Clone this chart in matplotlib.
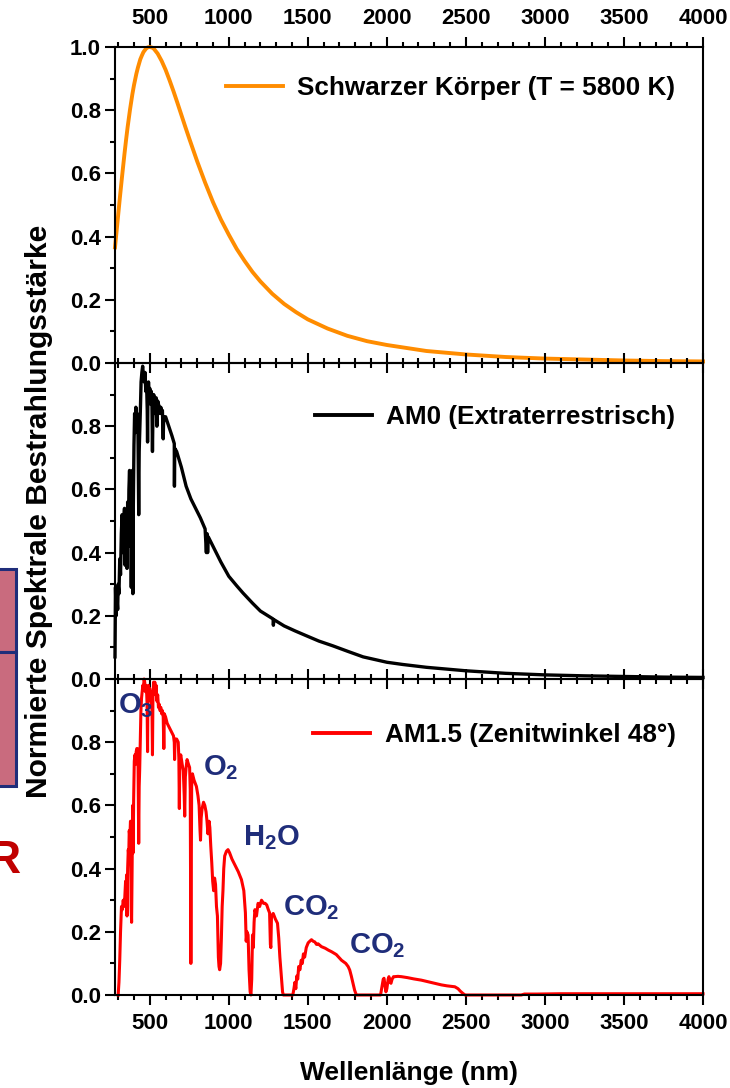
import matplotlib
matplotlib.use('Agg')
import matplotlib.pyplot as plt
from matplotlib.ticker import MultipleLocator
from matplotlib.patches import Rectangle

plt.rcParams['font.family'] = ['Liberation Sans', 'DejaVu Sans']
plt.rcParams['font.weight'] = 'bold'
plt.rcParams['mathtext.fontset'] = 'custom'
plt.rcParams['mathtext.bf'] = 'Liberation Sans:bold'
plt.rcParams['mathtext.rm'] = 'Liberation Sans:bold'

# Schwarzer Koerper 5800 K (normiert)
bb_wl = [280, 290, 300, 310, 325, 340, 350, 360, 375, 390, 400, 415, 425, 440, 450, 460,
         475, 487, 500, 515, 525, 550, 575, 600, 625, 650, 675, 700, 725, 750, 800, 850,
         900, 950, 1000, 1050, 1100, 1150, 1200, 1275, 1350, 1425, 1500, 1625, 1750,
         1875, 2000, 2250, 2500, 2750, 3000, 3250, 3500, 3750, 4000]
bb_val = [0.366, 0.417, 0.468, 0.519, 0.592, 0.662, 0.706, 0.747, 0.802, 0.851, 0.879,
          0.915, 0.935, 0.961, 0.973, 0.984, 0.994, 0.999, 1.0, 0.998, 0.995, 0.979,
          0.956, 0.928, 0.895, 0.860, 0.823, 0.785, 0.747, 0.710, 0.638, 0.571, 0.509,
          0.454, 0.406, 0.361, 0.323, 0.288, 0.258, 0.219, 0.187, 0.161, 0.138, 0.109,
          0.086, 0.069, 0.057, 0.038, 0.027, 0.019, 0.014, 0.011, 0.008, 0.006, 0.005]

# AM0 (Extraterrestrisch)
am0_wl = [280, 283, 287, 292, 297, 300, 305, 310, 315, 320, 325, 330, 335, 340, 344,
          348, 352, 356, 360, 364, 368, 372, 376, 380, 383, 386, 390, 393, 396, 400,
          404, 408, 412, 416, 420, 425, 430, 433, 437, 441, 445, 450, 455, 460, 465,
          470, 475, 480, 484, 486, 488, 492, 496, 500, 505, 510, 514, 517, 520, 525,
          530, 535, 540, 545, 550, 555, 560, 565, 570, 575, 580, 585, 588, 592, 600,
          620, 640, 655, 656, 658, 670, 700, 730, 760, 790, 820, 850, 858, 862, 866,
          870, 900, 950, 1000, 1050, 1090, 1150, 1200, 1280, 1282, 1285, 1350, 1420,
          1490, 1570, 1658, 1750, 1850, 2000, 2100, 2250, 2500, 2750, 3000, 3250, 3500,
          3750, 4000]
am0_val = [0.07, 0.29, 0.20, 0.26, 0.22, 0.30, 0.27, 0.38, 0.33, 0.46, 0.52, 0.40, 0.50,
           0.54, 0.36, 0.53, 0.49, 0.35, 0.56, 0.42, 0.60, 0.66, 0.50, 0.63, 0.29, 0.58,
           0.66, 0.27, 0.55, 0.74, 0.84, 0.78, 0.86, 0.82, 0.84, 0.80, 0.52, 0.72, 0.79,
           0.86, 0.94, 0.97, 0.99, 0.96, 0.94, 0.97, 0.91, 0.93, 0.85, 0.75, 0.88, 0.94,
           0.90, 0.92, 0.87, 0.91, 0.86, 0.72, 0.84, 0.90, 0.88, 0.84, 0.89, 0.80, 0.88,
           0.87, 0.86, 0.84, 0.86, 0.84, 0.85, 0.76, 0.83, 0.82, 0.83, 0.80, 0.77, 0.745,
           0.61, 0.73, 0.72, 0.67, 0.61, 0.57, 0.54, 0.51, 0.475, 0.40, 0.46, 0.40, 0.45,
           0.42, 0.37, 0.325, 0.295, 0.272, 0.24, 0.215, 0.19, 0.17, 0.188, 0.168, 0.152,
           0.137, 0.12, 0.105, 0.088, 0.07, 0.053, 0.046, 0.037, 0.026, 0.018, 0.013,
           0.010, 0.008, 0.006, 0.005]

# AM1.5 (Zenitwinkel 48 Grad)
am15_wl = [300, 305, 310, 315, 321, 326, 332, 337, 342, 347, 350, 353, 356, 360, 364,
           367, 370, 374, 378, 382, 385, 388, 392, 395, 398, 402, 406, 410, 414, 418,
           422, 426, 430, 433, 436, 440, 444, 448, 452, 456, 460, 464, 468, 472, 476,
           480, 483, 486, 488, 492, 496, 500, 504, 508, 511, 514, 517, 520, 524, 528,
           532, 536, 540, 545, 550, 555, 560, 565, 570, 575, 580, 585, 589, 592, 600,
           610, 620, 630, 640, 650, 655, 657, 660, 670, 680, 684, 687, 690, 696, 705,
           712, 718, 721, 725, 730, 736, 745, 752, 756, 760, 762, 765, 770, 780, 795,
           805, 812, 818, 821, 825, 831, 840, 848, 856, 862, 868, 875, 880, 886, 892,
           898, 904, 910, 916, 922, 928, 934, 938, 942, 948, 953, 958, 963, 968, 974,
           985, 995, 1005, 1020, 1040, 1060, 1080, 1095, 1105, 1110, 1115, 1122, 1128,
           1135, 1140, 1145, 1150, 1155, 1160, 1165, 1175, 1185, 1195, 1207, 1220, 1230,
           1240, 1250, 1258, 1263, 1266, 1270, 1281, 1295, 1308, 1316, 1323, 1332, 1340,
           1345, 1405, 1412, 1418, 1424, 1430, 1436, 1442, 1450, 1458, 1465, 1472, 1480,
           1490, 1502, 1512, 1523, 1534, 1544, 1555, 1565, 1586, 1610, 1630, 1650, 1680,
           1713, 1740, 1755, 1765, 1775, 1786, 1796, 1807, 1960, 1970, 1977, 1982, 1988,
           1994, 2000, 2008, 2013, 2020, 2026, 2033, 2042, 2049, 2070, 2092, 2130, 2170,
           2218, 2260, 2300, 2345, 2380, 2410, 2430, 2450, 2465, 2481, 2495, 2850, 2870,
           2950, 3100, 3300, 3500, 3800, 4000]
am15_val = [0.0, 0.04, 0.11, 0.20, 0.28, 0.27, 0.30, 0.28, 0.31, 0.36, 0.30, 0.38, 0.25,
            0.40, 0.46, 0.44, 0.52, 0.50, 0.55, 0.28, 0.23, 0.40, 0.60, 0.45, 0.62, 0.74,
            0.76, 0.73, 0.77, 0.78, 0.78, 0.72, 0.48, 0.66, 0.71, 0.80, 0.90, 0.94, 0.96,
            0.98, 0.97, 1.0, 0.99, 0.96, 0.98, 0.96, 0.92, 0.77, 0.93, 0.98, 0.95, 0.97,
            0.93, 0.96, 0.92, 0.90, 0.76, 0.94, 0.99, 0.97, 0.99, 0.95, 0.98, 0.93, 0.95,
            0.91, 0.92, 0.90, 0.91, 0.89, 0.90, 0.88, 0.78, 0.89, 0.88, 0.86, 0.85, 0.84,
            0.83, 0.82, 0.80, 0.745, 0.81, 0.81, 0.80, 0.75, 0.59, 0.74, 0.76, 0.73, 0.71,
            0.63, 0.566, 0.69, 0.72, 0.745, 0.73, 0.72, 0.65, 0.10, 0.30, 0.66, 0.70, 0.68,
            0.66, 0.63, 0.60, 0.52, 0.49, 0.56, 0.59, 0.61, 0.60, 0.58, 0.55, 0.51, 0.55,
            0.53, 0.47, 0.42, 0.36, 0.33, 0.37, 0.35, 0.28, 0.25, 0.12, 0.09, 0.08, 0.10,
            0.18, 0.28, 0.33, 0.40, 0.44, 0.455, 0.46, 0.45, 0.43, 0.41, 0.39, 0.365, 0.33,
            0.26, 0.17, 0.20, 0.19, 0.08, 0.01, 0.0, 0.05, 0.19, 0.15, 0.23, 0.27, 0.25,
            0.29, 0.28, 0.30, 0.29, 0.29, 0.285, 0.27, 0.26, 0.16, 0.15, 0.25, 0.258, 0.24,
            0.227, 0.18, 0.12, 0.06, 0.01, 0.0, 0.0, 0.02, 0.04, 0.02, 0.06, 0.05, 0.09,
            0.08, 0.11, 0.10, 0.13, 0.12, 0.15, 0.165, 0.17, 0.175, 0.17, 0.168, 0.16,
            0.162, 0.153, 0.148, 0.142, 0.137, 0.128, 0.11, 0.10, 0.09, 0.079, 0.06, 0.037,
            0.015, 0.0, 0.0, 0.03, 0.05, 0.053, 0.03, 0.01, 0.02, 0.05, 0.058, 0.04, 0.037,
            0.05, 0.058, 0.058, 0.059, 0.058, 0.055, 0.051, 0.047, 0.042, 0.037, 0.032,
            0.029, 0.027, 0.026, 0.02, 0.012, 0.005, 0.0, 0.0, 0.003, 0.003, 0.004, 0.004,
            0.004, 0.004, 0.004]

# Absorptionsbanden: Text, Wellenlaenge, Wert
mol_labels = [r'$\mathbf{O_3}$', r'$\mathbf{O_2}$', r'$\mathbf{H_2O}$',
              r'$\mathbf{CO_2}$', r'$\mathbf{CO_2}$']
mol_wl = [297, 835, 1092, 1342, 1763]
mol_val = [0.892, 0.696, 0.475, 0.253, 0.132]

fig = plt.figure(figsize=(7.3, 10.88), dpi=100)

left, width, height = 115 / 730, 588 / 730, 316 / 1088
bottoms = [1 - 363 / 1088, 1 - 679 / 1088, 1 - 995 / 1088]
axes = [fig.add_axes([left, b, width, height]) for b in bottoms]

series = [
    (bb_wl, bb_val, '#FF8C00', 2.8, 'Schwarzer Körper (T = 5800 K)', 0.870),
    (am0_wl, am0_val, 'black', 2.4, 'AM0 (Extraterrestrisch)', 0.829),
    (am15_wl, am15_val, '#FF0000', 2.2, 'AM1.5 (Zenitwinkel 48°)', 0.823),
]

for i, (ax, (wl, val, col, lw, lab, ly)) in enumerate(zip(axes, series)):
    ax.patch.set_visible(False)
    ax.plot(wl, val, color=col, lw=lw, label=lab, clip_on=False)
    ax.set_xlim(280, 4000)
    ax.set_ylim(0, 1.0)
    ax.xaxis.set_major_locator(MultipleLocator(500))
    ax.xaxis.set_minor_locator(MultipleLocator(100))
    ax.yaxis.set_minor_locator(MultipleLocator(0.1))
    if i == 0:
        ax.set_yticks([0, 0.2, 0.4, 0.6, 0.8, 1.0])
    else:
        ax.set_yticks([0, 0.2, 0.4, 0.6, 0.8])
    ax.set_xticks([500, 1000, 1500, 2000, 2500, 3000, 3500, 4000])
    ax.tick_params(which='both', direction='out', top=True, bottom=True, right=False,
                   width=1.5, labelsize=16, labeltop=(i == 0), labelbottom=(i == 2))
    ax.tick_params(axis='x', which='major', length=7, pad=6)
    ax.tick_params(axis='x', which='minor', length=3.5)
    ax.tick_params(axis='y', which='major', length=7, pad=3)
    ax.tick_params(axis='y', which='minor', length=3.5)
    ax.set_yticklabels(['%.1f' % t for t in ax.get_yticks()])
    for s in ax.spines.values():
        s.set_linewidth(1.5)
    leg = ax.legend(loc='center right', bbox_to_anchor=(0.993, ly), frameon=False,
                    fontsize=18.8, handlelength=2.2, handletextpad=0.55)
    for line in leg.get_lines():
        line.set_linewidth(2.8)

for t, x, y in zip(mol_labels, mol_wl, mol_val):
    axes[2].text(x, y, t, color='#1F2D7A', fontsize=21, ha='left', va='baseline')

fig.text(39 / 730, 1 - 511 / 1088, 'Normierte Spektrale Bestrahlungsstärke',
         rotation=90, ha='center', va='center', fontsize=21.6)
fig.text(409 / 730, 1 - 1080 / 1088, 'Wellenlänge (nm)', ha='center', va='baseline',
         fontsize=19)

# Reste der Nachbarfolie am linken Rand
for y0, y1 in [(569, 652), (652, 786)]:
    fig.add_artist(Rectangle((-10 / 730, 1 - y1 / 1088), 26 / 730, (y1 - y0) / 1088,
                             transform=fig.transFigure, facecolor='#C96B7E',
                             edgecolor='#1F2D7A', lw=2.2))
fig.text(21 / 730, 1 - 873 / 1088, 'R', color='#C00000', fontsize=33, ha='right',
         va='baseline')

fig.savefig('out.png', dpi=100)
